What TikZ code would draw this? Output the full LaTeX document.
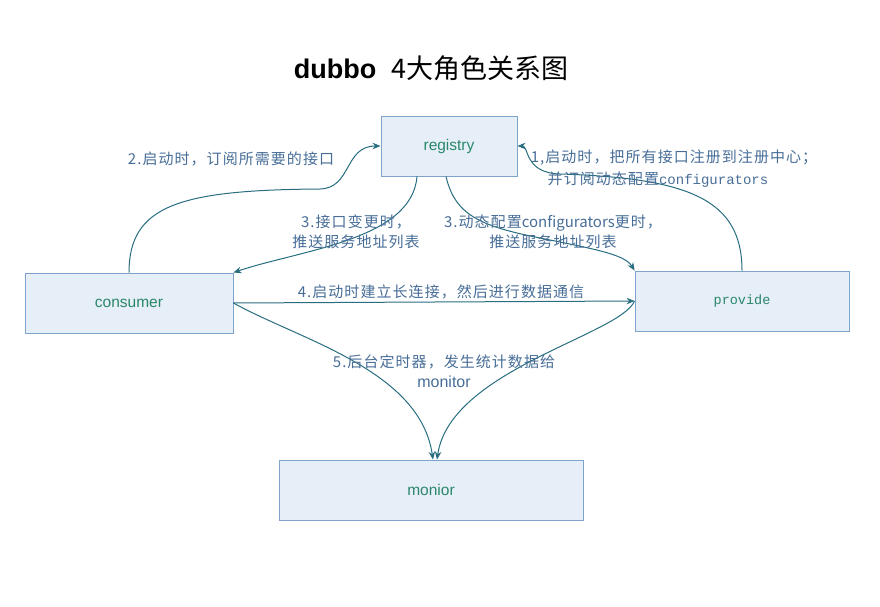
\documentclass[tikz,border=0pt]{standalone}
\usepackage{fontspec}
\setmainfont{Liberation Sans}
\newfontfamily\cjk{Noto Sans CJK SC}
\newfontfamily\cjkl[LetterSpace=7]{Noto Sans CJK SC}
\newfontfamily\monof{Liberation Mono}
\usetikzlibrary{arrows.meta}
\definecolor{boxfill}{RGB}{230,238,248}
\definecolor{boxline}{RGB}{126,164,204}
\definecolor{boxtext}{RGB}{42,135,105}
\definecolor{labtext}{RGB}{72,110,152}
\definecolor{arrc}{RGB}{40,110,128}
\tikzset{
  rolebox/.style={draw=boxline, fill=boxfill, line width=0.9pt, inner sep=0pt,
    text=boxtext, font=\fontsize{15.5}{18}\selectfont},
  arr/.style={draw=arrc, line width=1pt, -{Stealth[length=8pt,width=6.5pt]}},
  lab/.style={text=labtext, font=\cjkl\fontsize{15}{19.5}\selectfont, inner sep=0pt, align=center},
}
\begin{document}
\begin{tikzpicture}[x=1pt,y=-1pt]
\useasboundingbox (0,0) rectangle (880,607);
\fill[white] (0,0) rectangle (880,607);

% title
\node (title) at (431,68) {\fontsize{27}{30}\selectfont\bfseries dubbo\ \ {\cjk\mdseries 4大角色关系图}};

% boxes
\node[rolebox, minimum width=136pt, minimum height=60pt] (registry) at (449,146) {registry};
\node[rolebox, minimum width=208pt, minimum height=60pt] (consumer) at (129,303) {consumer};
\node[rolebox, minimum width=214pt, minimum height=60pt] (provide) at (742,301) {\monof\fontsize{13.5}{16}\selectfont provide};
\node[rolebox, minimum width=304pt, minimum height=60pt] (monior) at (431,490) {monior};

% 1: provide -> registry
\draw[arr] (provide.north) .. controls (742,200) and (690,178) .. (560,174)
  .. controls (524,173) and (529,146) .. (registry.east);
% 2: consumer -> registry
\draw[arr] (consumer.north) .. controls (129,205) and (180,190) .. (320,189)
  .. controls (352,188) and (344,146) .. (registry.west);
% 3a: registry -> consumer
\draw[arr] ([xshift=-32pt]registry.south) .. controls (412,240) and (300,250) .. (consumer.north east);
% 3b: registry -> provide
\draw[arr] ([xshift=-3pt]registry.south) .. controls (455,215) and (480,226) .. (540,238)
  .. controls (600,250) and (625,255) .. (provide.north west);
% 4: consumer -> provide
\draw[arr] (consumer.east) -- (provide.west);
% 5a: consumer -> monior
\draw[arr] (consumer.east) .. controls (300,340) and (420,370) .. ([xshift=2pt]monior.north);
% 5b: provide -> monior
\draw[arr] (provide.west) .. controls (620,335) and (450,370) .. ([xshift=6pt]monior.north);

% labels
\node[lab] (l1a) at (674,158) {1,启动时，把所有接口注册到注册中心；};
\node[lab] (l1b) at (658,180) {并订阅动态配置{\monof\fontsize{14}{16}\selectfont configurators}};
\node[lab] (l2) at (231,159) {2.启动时，订阅所需要的接口};
\node[lab] (l3a) at (356,232) {3.接口变更时，\\推送服务地址列表};
\node[lab] (l3b) at (553,232) {3.动态配置{\cjk configurators}更时，\\推送服务地址列表};
\node[lab] (l4) at (441,292) {4.启动时建立长连接，然后进行数据通信};
\node[lab] (l5) at (444,371) {5.后台定时器，发生统计数据给\\{\rmfamily\fontsize{16}{19}\selectfont monitor}};
\end{tikzpicture}
\end{document}
